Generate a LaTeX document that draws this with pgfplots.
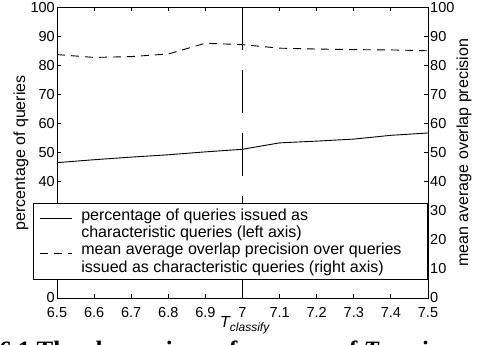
\documentclass[border=0pt]{standalone}
\usepackage{fontspec}
\setmainfont{Liberation Sans}
\newfontfamily\capfont{Liberation Serif}
\usepackage{pgfplots}
\pgfplotsset{compat=1.18}
\pgfplotstableread{
x    pct
6.5  46.6
6.6  47.6
6.7  48.5
6.8  49.3
6.9  50.3
7.0  51.2
7.1  53.4
7.2  54.0
7.3  54.7
7.4  56.0
7.5  56.8
}\pcttable
\pgfplotstableread{
x    prec
6.5  83.8
6.6  82.8
6.7  83.1
6.8  84.0
6.9  87.7
7.0  87.2
7.1  86.0
7.2  85.7
7.3  85.5
7.4  85.4
7.5  85.1
}\prectable
\begin{document}
\begin{tikzpicture}
\useasboundingbox (-57pt,-47pt) rectangle (420pt,298pt);
\pgfplotsset{
  common/.style={
    scale only axis, width=371pt, height=290.5pt,
    xmin=6.5, xmax=7.5, ymin=0, ymax=100,
    ytick={0,10,...,100},
    tick align=inside,
    major tick length=4pt,
    axis line style={line width=0.9pt},
    tick style={line width=0.9pt, black},
    tick label style={font=\fontsize{14.5}{16}\selectfont},
    /pgf/number format/assume math mode=true,
    yticklabel style={inner xsep=2pt},
  },
}
\begin{axis}[common,
  xtick={6.5,6.6,6.7,6.8,6.9,7,7.1,7.2,7.3,7.4,7.5},
  xticklabels={6.5,6.6,6.7,6.8,6.9,7,7.1,7.2,7.3,7.4,7.5},
  xtick pos=both, ytick pos=left,
  xticklabel style={inner ysep=2pt, yshift=-7pt},
  ylabel={percentage of queries},
  ylabel style={at={(rel axis cs:0,0.5)}, anchor=center, yshift=36pt,
    font=\fontsize{16}{18}\selectfont},
  xlabel={\itshape T{\fontsize{12}{12}\selectfont\raisebox{-4pt}{classify}}},
  xlabel style={at={(rel axis cs:0,0)}, anchor=north west, inner sep=0pt,
    xshift=163pt, yshift=-18.7pt, font=\fontsize{16}{18}\selectfont},
]
\addplot[black, line width=0.9pt] table[x=x, y=pct] {\pcttable};
\addplot[black, line width=0.9pt, dash pattern=on 43pt off 20pt] coordinates {(7,100) (7,0)};
\end{axis}
\begin{axis}[common,
  hide x axis,
  axis y line*=right,
  ytick pos=right,
  yticklabel pos=right,
  ylabel={mean average overlap precision},
  ylabel style={at={(rel axis cs:1,0.5)}, anchor=center, yshift=-36pt,
    font=\fontsize{16}{18}\selectfont},
  legend style={at={(rel axis cs:-0.0647,0.327)}, anchor=north west,
    draw=black, fill=white, line width=0.9pt,
    font=\fontsize{16}{17.8}\selectfont,
    inner xsep=6pt, inner ysep=3pt, row sep=0pt,
    cells={anchor=west, align=left},
    /tikz/every odd column/.append style={column sep=7pt}},
  legend image code/.code={\draw[#1, line width=0.9pt] (0pt,5pt) -- (32pt,5pt);},
  legend cell align=left,
]
\addlegendimage{black, solid}
\addlegendentry{percentage of queries issued as\\characteristic queries (left axis)}
\addplot[black, line width=0.9pt, dash pattern=on 8pt off 6pt] table[x=x, y=prec] {\prectable};
\addlegendentry{mean average overlap precision over queries\hspace*{18pt}\mbox{}\\issued as characteristic queries (right axis)}
\end{axis}
\node[anchor=base west, inner sep=0pt, font=\capfont\bfseries\fontsize{25}{26}\selectfont]
  at (-58pt,-61pt) {6.1 The change in performance of \textit{T} varies};
\end{tikzpicture}
\end{document}
